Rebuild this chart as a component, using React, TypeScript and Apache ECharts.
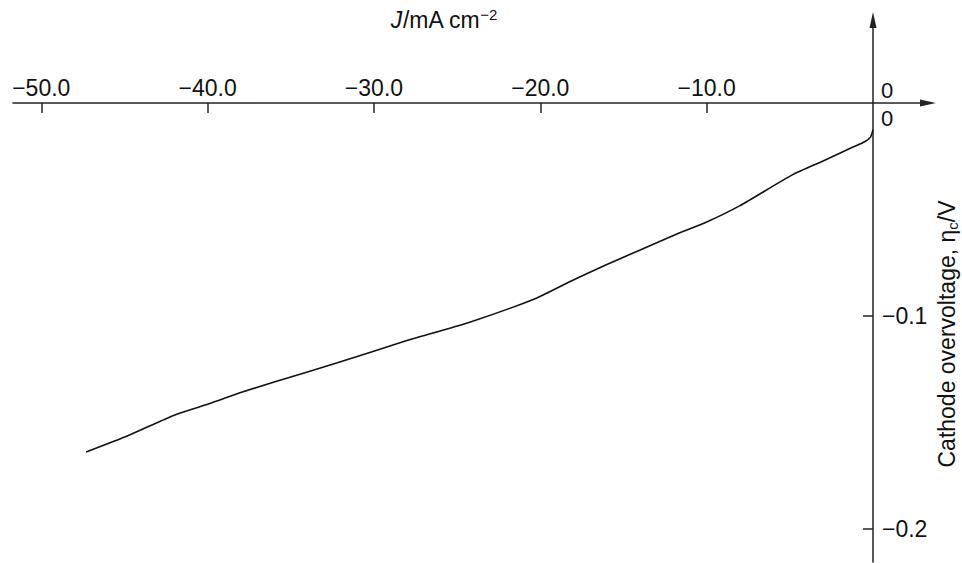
import React, { useEffect, useRef } from "react";
import * as echarts from "echarts";

const currentDensity = [
  -47.3, -44.8, -41.9, -39.9, -38.1, -35.8, -32.2, -28.3, -24.2, -20.2, -18.3,
  -16.0, -14.0, -12.0, -10.0, -8.0, -4.8, -3.0, -1.2, -0.5, -0.15, 0,
];
const overvoltage = [
  -0.1638, -0.1562, -0.1462, -0.1412, -0.1362, -0.1305, -0.122, -0.1122,
  -0.1028, -0.0915, -0.0842, -0.0758, -0.0690, -0.0622, -0.0559, -0.0482,
  -0.0335, -0.0272, -0.0207, -0.0182, -0.0160, -0.0125,
];
const xTickValues = [-50, -40, -30, -20, -10];
const yTickValues = [-0.1, -0.2];

const FONT = "'Liberation Sans', Arial, sans-serif";
const MINUS = "\u2212";
const AXIS = "#222";

export default function App() {
  const ref = useRef<HTMLDivElement>(null);
  useEffect(() => {
    document.body.style.margin = "0";
    if (!ref.current) return;
    const chart = echarts.init(ref.current, null, { renderer: "svg" });
    const data = currentDensity.map((x, i) => [x, overvoltage[i]]);
    const fmt = (v: number, d: number) =>
      (v < 0 ? MINUS : "") + Math.abs(v).toFixed(d);
    chart.setOption({
      animation: false,
      backgroundColor: "#ffffff",
      grid: {
        left: 13,
        right: 89,
        top: 103,
        bottom: 1,
        containLabel: false,
        outerBoundsMode: "none",
      },
      xAxis: {
        type: "value",
        position: "top",
        min: -51.7,
        max: 0,
        splitLine: { show: false },
        axisLine: {
          onZero: false,
          lineStyle: { color: AXIS, width: 1.5 },
        },
        axisTick: {
          inside: true,
          length: 10,
          customValues: xTickValues,
          lineStyle: { color: AXIS, width: 1.5 },
        },
        axisLabel: {
          customValues: xTickValues,
          margin: 4,
          fontSize: 23,
          fontFamily: FONT,
          color: "#111",
          formatter: (v: number) => fmt(v, 1),
        },
      },
      yAxis: {
        type: "value",
        position: "right",
        min: -0.2155,
        max: 0,
        splitLine: { show: false },
        axisLine: {
          onZero: false,
          lineStyle: { color: AXIS, width: 1.5 },
        },
        axisTick: {
          inside: true,
          length: 10,
          customValues: yTickValues,
          lineStyle: { color: AXIS, width: 1.5 },
        },
        axisLabel: {
          customValues: yTickValues,
          margin: 9,
          fontSize: 23,
          fontFamily: FONT,
          color: "#111",
          formatter: (v: number) => fmt(v, 1),
        },
      },
      series: [
        {
          type: "line",
          data,
          showSymbol: false,
          smooth: 0.2,
          lineStyle: { color: "#111", width: 1.6 },
        },
      ],
      graphic: [
        {
          type: "line",
          shape: { x1: 873, y1: 103, x2: 925, y2: 103 },
          style: { stroke: AXIS, lineWidth: 1.5 },
        },
        {
          type: "polygon",
          shape: { points: [[936, 103], [920, 99.5], [920, 106.5]] },
          style: { fill: AXIS },
        },
        {
          type: "line",
          shape: { x1: 873, y1: 103, x2: 873, y2: 24 },
          style: { stroke: AXIS, lineWidth: 1.5 },
        },
        {
          type: "polygon",
          shape: { points: [[873, 12], [869.5, 28], [876.5, 28]] },
          style: { fill: AXIS },
        },
        {
          type: "text",
          x: 444,
          y: 20,
          style: {
            text: "{i|J}/mA cm{sup|" + MINUS + "2}",
            align: "center",
            verticalAlign: "middle",
            fontSize: 23,
            fontFamily: FONT,
            fill: "#111",
            rich: {
              i: { fontSize: 23, fontStyle: "italic", fontFamily: FONT },
              sup: { fontSize: 15, fontFamily: FONT, padding: [0, 0, 12, 0] },
            },
          },
        },
        {
          type: "text",
          x: 947,
          y: 334,
          rotation: Math.PI / 2,
          style: {
            text: "Cathode overvoltage, η{sub|c}/V",
            align: "center",
            verticalAlign: "middle",
            fontSize: 23,
            fontFamily: FONT,
            fill: "#111",
            rich: {
              sub: { fontSize: 15, fontFamily: FONT, padding: [10, 0, 0, 0] },
            },
          },
        },
        {
          type: "text",
          x: 887,
          y: 90,
          style: {
            text: "0",
            align: "center",
            verticalAlign: "middle",
            fontSize: 22,
            fontFamily: FONT,
            fill: "#111",
          },
        },
        {
          type: "text",
          x: 887,
          y: 118,
          style: {
            text: "0",
            align: "center",
            verticalAlign: "middle",
            fontSize: 22,
            fontFamily: FONT,
            fill: "#111",
          },
        },
      ],
    });
    return () => chart.dispose();
  }, []);
  return <div ref={ref} style={{ width: 962, height: 563 }} />;
}
